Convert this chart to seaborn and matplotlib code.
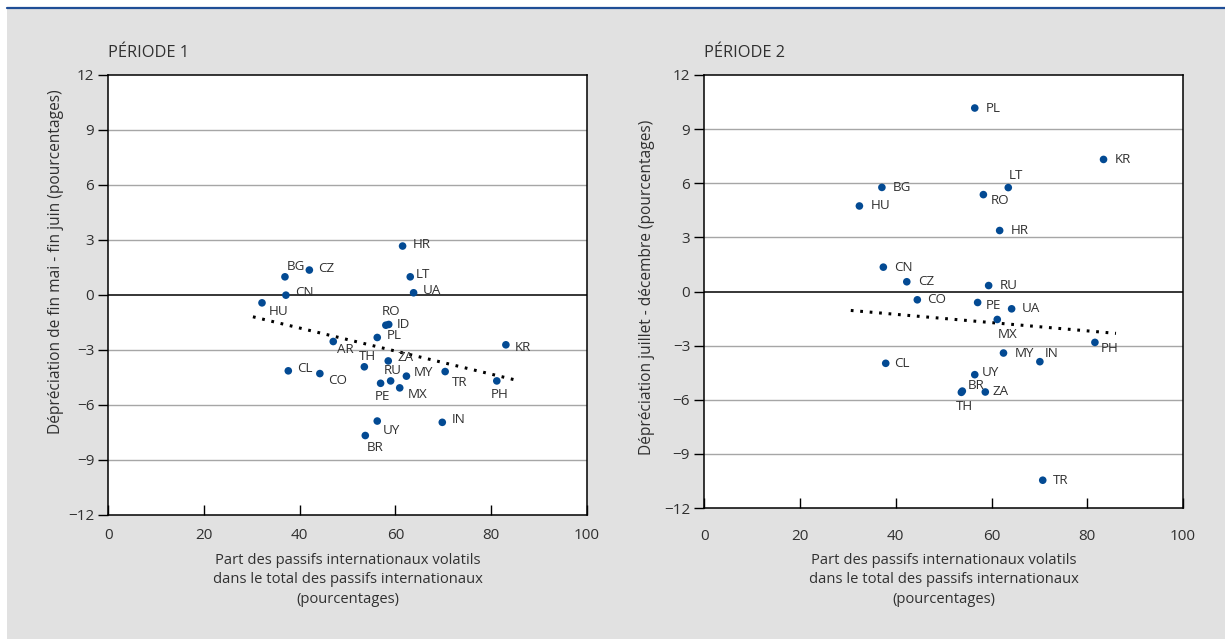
import matplotlib
matplotlib.use("Agg")
import matplotlib.pyplot as plt
import numpy as np
import pandas as pd
import seaborn as sns
from matplotlib.patches import Rectangle
from matplotlib.lines import Line2D

# Période 1 : dépréciation fin mai - fin juin
p1_codes = ["HR", "BG", "CZ", "LT", "UA", "CN", "HU", "RO", "ID", "PL", "AR", "KR", "ZA",
            "TH", "CL", "CO", "MY", "TR", "RU", "PE", "MX", "PH", "UY", "IN", "BR"]
p1_share = [61.5, 36.9, 42.0, 63.1, 63.8, 37.1, 32.1, 58.0, 58.6, 56.2, 47.0, 83.1, 58.5,
            53.5, 37.6, 44.2, 62.3, 70.4, 59.0, 56.9, 60.9, 81.2, 56.2, 69.8, 53.7]
p1_depr = [2.65, 0.97, 1.34, 0.97, 0.10, -0.03, -0.45, -1.67, -1.63, -2.34, -2.56, -2.74, -3.62,
           -3.94, -4.16, -4.31, -4.45, -4.20, -4.71, -4.84, -5.09, -4.71, -6.90, -6.97, -7.69]
p1_trend_x = [30.2, 85.9]
p1_trend_y = [-1.21, -4.71]

# Période 2 : dépréciation juillet - décembre
p2_codes = ["PL", "KR", "BG", "LT", "RO", "HU", "HR", "CN", "CZ", "RU", "CO", "PE", "UA",
            "MX", "PH", "MY", "IN", "CL", "UY", "BR", "TH", "ZA", "TR"]
p2_share = [56.5, 83.4, 37.1, 63.5, 58.3, 32.4, 61.7, 37.4, 42.3, 59.4, 44.5, 57.1, 64.2,
            61.2, 81.6, 62.5, 70.1, 37.9, 56.5, 53.9, 53.7, 58.7, 70.7]
p2_depr = [10.17, 7.32, 5.77, 5.76, 5.37, 4.74, 3.38, 1.35, 0.54, 0.33, -0.46, -0.61, -0.96,
           -1.55, -2.82, -3.41, -3.89, -3.98, -4.61, -5.52, -5.59, -5.57, -10.46]
p2_trend_x = [30.6, 86.0]
p2_trend_y = [-1.05, -2.32]

yticks = [-12, -9, -6, -3, 0, 3, 6, 9, 12]
xticks = [0, 20, 40, 60, 80, 100]

# label placement (pixels, dy positive = down)
p1_labels = {
    "HR": (10, -2, "left"), "BG": (2, -10, "left"), "CZ": (9, -2, "left"), "LT": (6, -2, "left"),
    "UA": (9, -2, "left"), "CN": (9, -3, "left"), "HU": (7, 9, "left"), "RO": (5, -14, "center"),
    "ID": (8, 0, "left"), "PL": (10, -2, "left"), "AR": (4, 8, "left"), "KR": (9, 3, "left"),
    "ZA": (9, -3, "left"), "TH": (3, -10, "center"), "CL": (9, -2, "left"), "CO": (8, 7, "left"),
    "MY": (7, -4, "left"), "TR": (7, 11, "left"), "RU": (2, -10, "center"), "PE": (2, 13, "center"),
    "MX": (8, 7, "left"), "PH": (3, 14, "center"), "UY": (6, 9, "left"), "IN": (9, -3, "left"),
    "BR": (10, 12, "center"),
}
p2_labels = {
    "PL": (11, 0, "left"), "KR": (11, 0, "left"), "BG": (11, 0, "left"), "LT": (8, -12, "center"),
    "RO": (7, 6, "left"), "HU": (11, 0, "left"), "HR": (11, 0, "left"), "CN": (11, 0, "left"),
    "CZ": (11, 0, "left"), "RU": (11, 0, "left"), "CO": (10, 0, "left"), "PE": (8, 3, "left"),
    "UA": (10, 0, "left"), "MX": (10, 15, "center"), "PH": (6, 6, "left"), "MY": (11, 0, "left"),
    "IN": (5, -8, "left"), "CL": (8, 0, "left"), "UY": (7, -2, "left"), "BR": (5, -6, "left"),
    "TH": (3, 14, "center"), "ZA": (7, 0, "left"), "TR": (10, 0, "left"),
}

sns.set_style("white")
plt.rcParams["font.family"] = ["Open Sans", "DejaVu Sans"]
plt.rcParams["axes.unicode_minus"] = True

W, H = 1225, 639
fig = plt.figure(figsize=(W / 100, H / 100), dpi=100)
fig.patch.set_facecolor("white")
fig.patches.append(Rectangle((7 / W, 0), 1 - 7 / W, 1 - 9 / H, transform=fig.transFigure,
                             facecolor="#e1e1e1", edgecolor="none", zorder=-10))
fig.lines.append(Line2D([7 / W, 1], [1 - 8 / H, 1 - 8 / H], transform=fig.transFigure,
                        color="#1f4e96", linewidth=1.6))

BLUE = "#034a93"
TXT = "#303030"


def panel(rect, codes, share, depr, tx, ty, labels, title, ylabel, ylab_xy):
    ax = fig.add_axes(rect)
    ax.set_facecolor("white")
    df = pd.DataFrame({"code": codes, "share": share, "depr": depr})
    for v in yticks[1:-1]:
        ax.axhline(v, color="black" if v == 0 else "#a6a6a6",
                   linewidth=1.1 if v == 0 else 1.0, zorder=1)
    sns.lineplot(x=tx, y=ty, ax=ax, color="black", linewidth=2.2,
                 linestyle=(0, (0.9, 2.2)), zorder=2)
    sns.scatterplot(data=df, x="share", y="depr", ax=ax, color=BLUE, s=30,
                    edgecolor="none", zorder=3)
    for c, x, y in zip(codes, share, depr):
        dx, dy, ha = labels[c]
        ax.annotate(c, (x, y), xytext=(dx * 0.72, -dy * 0.72), textcoords="offset points",
                    ha=ha, va="center", fontsize=9.6, color=TXT, zorder=4)
    ax.set_xlim(0, 100)
    ax.set_ylim(-12, 12)
    ax.set_xticks(xticks)
    ax.set_yticks(yticks)
    ax.set_xlabel("")
    ax.set_ylabel("")
    for s in ax.spines.values():
        s.set_visible(True)
        s.set_color("black")
        s.set_linewidth(1.1)
    ax.tick_params(axis="y", direction="out", length=7.2, width=1.0, color="black",
                   labelsize=11, labelcolor=TXT, pad=3, left=True)
    ax.tick_params(axis="x", direction="in", length=7.2, width=1.0, color="black",
                   labelsize=11, labelcolor=TXT, pad=10, bottom=True)
    fig.text(rect[0], 1 - 53 / H, title, ha="left", va="center",
             fontsize=11.8, color=TXT)
    fig.text(ylab_xy[0] / W, 1 - ylab_xy[1] / H, ylabel, rotation=90, ha="center",
             va="center", fontsize=11.2, color=TXT)
    cx = (rect[0] + rect[2] / 2)
    fig.text(cx, 1 - 553 / H, "Part des passifs internationaux volatils\n"
             "dans le total des passifs internationaux\n(pourcentages)",
             ha="center", va="top", fontsize=10.6, color=TXT, linespacing=1.4)
    return ax


ax1 = panel([108.5 / W, 1 - 514.5 / H, 478.2 / W, 439.8 / H], p1_codes, p1_share, p1_depr,
            p1_trend_x, p1_trend_y, p1_labels, "PÉRIODE 1",
            "Dépréciation de fin mai - fin juin (pourcentages)", (56, 262))
ax2 = panel([704.3 / W, 1 - 508 / H, 478.7 / W, 433 / H], p2_codes, p2_share, p2_depr,
            p2_trend_x, p2_trend_y, p2_labels, "PÉRIODE 2",
            "Dépréciation juillet - décembre (pourcentages)", (647, 287))
ax2.tick_params(axis="x", pad=15)

fig.savefig("out.png", dpi=100)
